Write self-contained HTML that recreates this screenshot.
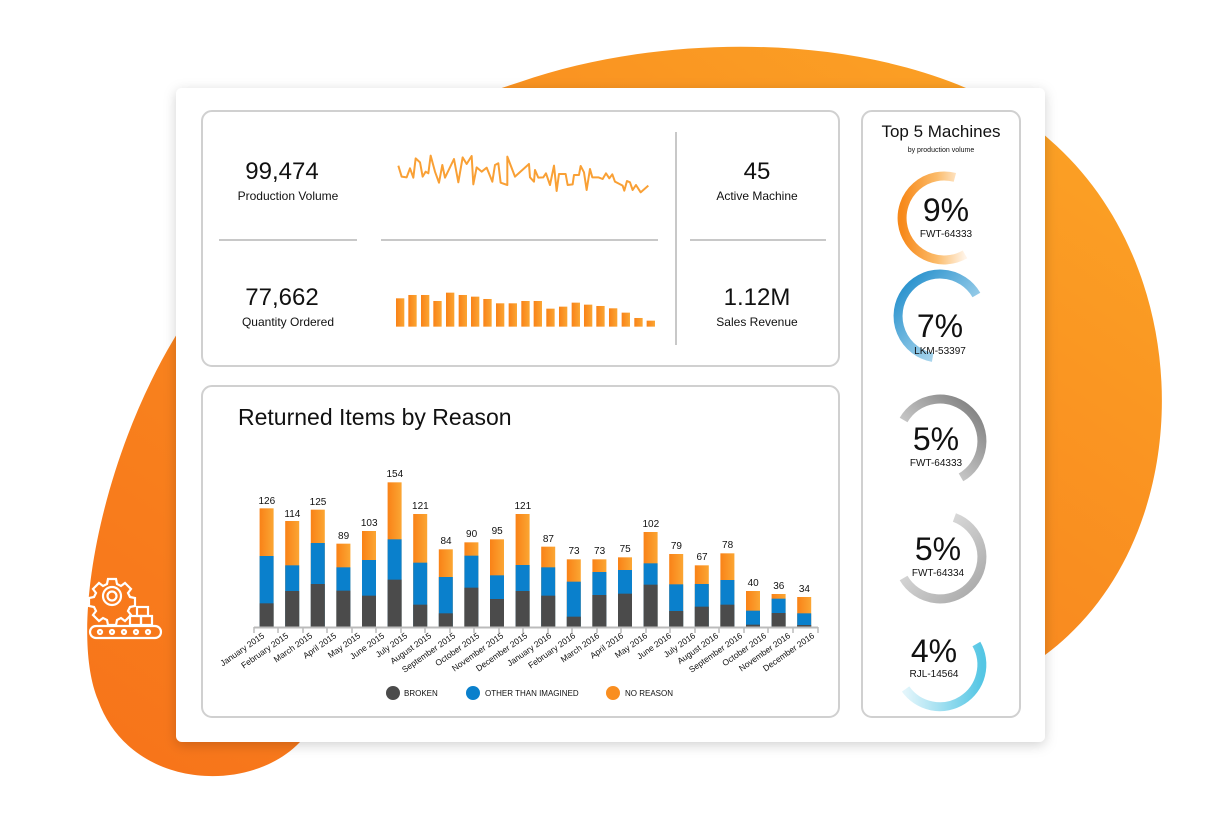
<!DOCTYPE html>
<html><head><meta charset="utf-8"><style>
html,body{margin:0;padding:0;background:#fff;width:1222px;height:828px;overflow:hidden;font-family:"Liberation Sans",sans-serif}
</style></head><body>
<svg width="1222" height="828" viewBox="0 0 1222 828" xmlns="http://www.w3.org/2000/svg" font-family="Liberation Sans, sans-serif">
<defs>
<linearGradient id="blob" x1="0" y1="1" x2="1" y2="0"><stop offset="0" stop-color="#f7731a"/><stop offset="0.6" stop-color="#f98e20"/><stop offset="1" stop-color="#fca626"/></linearGradient>
<linearGradient id="ob" x1="0" y1="0" x2="1" y2="0"><stop offset="0" stop-color="#f98217"/><stop offset="1" stop-color="#fba633"/></linearGradient>
<linearGradient id="g1" x1="0" y1="0" x2="1" y2="0"><stop offset="0" stop-color="#f7891a"/><stop offset="0.55" stop-color="#fbbb6a"/><stop offset="1" stop-color="#fff4e8"/></linearGradient>
<linearGradient id="g2" x1="0" y1="0" x2="1" y2="1"><stop offset="0" stop-color="#1688c9"/><stop offset="1" stop-color="#dcf0f9"/></linearGradient>
<linearGradient id="g3" x1="1" y1="0" x2="0" y2="1"><stop offset="0" stop-color="#777"/><stop offset="1" stop-color="#f2f2f2"/></linearGradient>
<linearGradient id="g4" x1="0" y1="0" x2="1" y2="1"><stop offset="0" stop-color="#eee"/><stop offset="1" stop-color="#a5a5a5"/></linearGradient>
<linearGradient id="g5" x1="0" y1="0" x2="1" y2="0"><stop offset="0" stop-color="#e2f5fb"/><stop offset="1" stop-color="#55c6e4"/></linearGradient>
<filter id="sh" x="-10%" y="-10%" width="120%" height="120%"><feDropShadow dx="0" dy="3" stdDeviation="6" flood-color="#000" flood-opacity="0.18"/></filter>
</defs>
<path d="M520,82 C700,20 940,40 1050,140 C1200,270 1200,540 1045,655 L300,742 C250,795 130,790 98,700 C65,620 110,420 200,300 L200,95 L480,95 Z" fill="url(#blob)"/>
<rect x="176" y="88" width="869" height="654" rx="6" fill="#fff" filter="url(#sh)"/>
<g fill="none" stroke="#fff" stroke-width="2.2">
<circle cx="112" cy="596" r="9"/><circle cx="112" cy="596" r="4.5"/>
<path d="M108,579 h8 l1,5 l4,2 l4,-3 l6,6 l-3,4 l2,4 l5,1 v8 l-5,1 l-2,4 l3,4 l-6,6 l-4,-3 l-4,2 l-1,5 h-8 l-1,-5 l-4,-2 l-4,3 l-6,-6 l3,-4 l-2,-4 l-5,-1 v-8 l5,-1 l2,-4 l-3,-4 l6,-6 l4,3 l4,-2 z"/>
<rect x="137" y="607" width="11" height="9"/><rect x="130" y="616" width="11" height="9"/><rect x="141" y="616" width="11" height="9"/>
<rect x="90" y="626" width="71" height="12" rx="6"/>
<circle cx="100" cy="632" r="2"/><circle cx="112" cy="632" r="2"/><circle cx="124" cy="632" r="2"/><circle cx="136" cy="632" r="2"/><circle cx="148" cy="632" r="2"/>
</g>
<rect x="202" y="111" width="637" height="255" rx="10" fill="#fff" stroke="#d0d0d0" stroke-width="2"/>
<rect x="202" y="386" width="637" height="331" rx="10" fill="#fff" stroke="#d0d0d0" stroke-width="2"/>
<rect x="862" y="111" width="158" height="606" rx="10" fill="#fff" stroke="#d0d0d0" stroke-width="2"/>
<g stroke="#c8c8c8" stroke-width="2"><line x1="219" y1="240" x2="357" y2="240"/><line x1="381" y1="240" x2="658" y2="240"/><line x1="690" y1="240" x2="826" y2="240"/><line x1="676" y1="132" x2="676" y2="345"/></g>
<g text-anchor="middle" fill="#111">
<text x="282" y="179" font-size="24">99,474</text><text x="288" y="200" font-size="12">Production Volume</text>
<text x="282" y="305" font-size="24">77,662</text><text x="288" y="326" font-size="12">Quantity Ordered</text>
<text x="757" y="179" font-size="24">45</text><text x="757" y="200" font-size="12">Active Machine</text>
<text x="757" y="305" font-size="24">1.12M</text><text x="757" y="326" font-size="12">Sales Revenue</text>
</g>
<g transform="translate(380,140) scale(0.3333)">
<polyline fill="none" stroke="#f9a035" stroke-width="6" stroke-linejoin="round" points="55,77 65,110 80,112 90,85 100,113 107,55 120,67 128,110 137,95 145,100 152,47 165,95 177,128 187,75 195,113 222,57 235,127 248,52 260,72 275,48 280,133 290,82 305,95 320,83 337,125 345,75 355,70 362,128 382,135 382,50 405,110 447,72 450,112 462,125 465,90 475,113 490,112 498,100 510,135 522,77 530,153 537,102 557,102 563,135 578,133 582,105 597,105 602,78 612,97 620,150 630,87 637,112 655,112 668,117 678,100 688,115 697,103 705,125 728,137 733,152 741,123 750,127 758,150 768,135 782,157 805,137"/>
<g fill="url(#ob)">
<rect x="48" y="475" width="25" height="85"/><rect x="85" y="465" width="25" height="95"/><rect x="123" y="465" width="25" height="95"/><rect x="160" y="483" width="25" height="77"/><rect x="198" y="458" width="25" height="102"/><rect x="236" y="465" width="25" height="95"/><rect x="273" y="470" width="25" height="90"/><rect x="310" y="477" width="25" height="83"/><rect x="348" y="490" width="25" height="70"/><rect x="386" y="490" width="25" height="70"/><rect x="424" y="483" width="25" height="77"/><rect x="461" y="483" width="25" height="77"/><rect x="499" y="506" width="25" height="54"/><rect x="537" y="500" width="25" height="60"/><rect x="575" y="488" width="25" height="72"/><rect x="612" y="494" width="25" height="66"/><rect x="649" y="498" width="25" height="62"/><rect x="687" y="505" width="25" height="55"/><rect x="725" y="518" width="25" height="42"/><rect x="763" y="534" width="25" height="26"/><rect x="800" y="542" width="25" height="18"/>
</g></g>
<text x="238" y="425" font-size="23" fill="#111">Returned Items by Reason</text>
<g transform="translate(200,460) scale(0.4,0.33333)">
<g fill="url(#ob)">
<rect x="149" y="145" width="35" height="355"/><rect x="213" y="183" width="35" height="317"/><rect x="277" y="149" width="35" height="351"/><rect x="341" y="251" width="35" height="249"/><rect x="405" y="213" width="35" height="287"/><rect x="469" y="67" width="35" height="433"/><rect x="533" y="162" width="35" height="338"/><rect x="597" y="268" width="35" height="232"/><rect x="661" y="247" width="35" height="253"/><rect x="725" y="238" width="35" height="262"/><rect x="789" y="162" width="35" height="338"/><rect x="853" y="260" width="35" height="240"/><rect x="917" y="298" width="35" height="202"/><rect x="981" y="298" width="35" height="202"/><rect x="1045" y="292" width="35" height="208"/><rect x="1109" y="216" width="35" height="284"/><rect x="1173" y="282" width="35" height="218"/><rect x="1237" y="316" width="35" height="184"/><rect x="1301" y="280" width="35" height="220"/><rect x="1365" y="393" width="35" height="107"/><rect x="1429" y="402" width="35" height="98"/><rect x="1493" y="411" width="35" height="89"/>
</g>
<g fill="#0a80cc">
<rect x="149" y="288" width="35" height="212"/><rect x="213" y="316" width="35" height="184"/><rect x="277" y="249" width="35" height="251"/><rect x="341" y="322" width="35" height="178"/><rect x="405" y="300" width="35" height="200"/><rect x="469" y="238" width="35" height="262"/><rect x="533" y="308" width="35" height="192"/><rect x="597" y="351" width="35" height="149"/><rect x="661" y="287" width="35" height="213"/><rect x="725" y="346" width="35" height="154"/><rect x="789" y="315" width="35" height="185"/><rect x="853" y="322" width="35" height="178"/><rect x="917" y="365" width="35" height="135"/><rect x="981" y="336" width="35" height="164"/><rect x="1045" y="330" width="35" height="170"/><rect x="1109" y="310" width="35" height="190"/><rect x="1173" y="373" width="35" height="127"/><rect x="1237" y="372" width="35" height="128"/><rect x="1301" y="360" width="35" height="140"/><rect x="1365" y="452" width="35" height="48"/><rect x="1429" y="416" width="35" height="84"/><rect x="1493" y="460" width="35" height="40"/>
</g>
<g fill="#4b4b4b">
<rect x="149" y="430" width="35" height="70"/><rect x="213" y="393" width="35" height="107"/><rect x="277" y="372" width="35" height="128"/><rect x="341" y="392" width="35" height="108"/><rect x="405" y="407" width="35" height="93"/><rect x="469" y="359" width="35" height="141"/><rect x="533" y="434" width="35" height="66"/><rect x="597" y="460" width="35" height="40"/><rect x="661" y="383" width="35" height="117"/><rect x="725" y="417" width="35" height="83"/><rect x="789" y="393" width="35" height="107"/><rect x="853" y="407" width="35" height="93"/><rect x="917" y="470" width="35" height="30"/><rect x="981" y="405" width="35" height="95"/><rect x="1045" y="401" width="35" height="99"/><rect x="1109" y="374" width="35" height="126"/><rect x="1173" y="453" width="35" height="47"/><rect x="1237" y="440" width="35" height="60"/><rect x="1301" y="434" width="35" height="66"/><rect x="1365" y="494" width="35" height="6"/><rect x="1429" y="459" width="35" height="41"/><rect x="1493" y="495" width="35" height="5"/>
</g></g>
<g font-size="10" text-anchor="middle" fill="#111">
<text x="266.8" y="504">126</text><text x="292.4" y="517">114</text><text x="318" y="505">125</text><text x="343.6" y="539">89</text><text x="369.2" y="526">103</text><text x="394.8" y="477">154</text><text x="420.4" y="509">121</text><text x="446" y="544">84</text><text x="471.6" y="537">90</text><text x="497.2" y="534">95</text><text x="522.8" y="509">121</text><text x="548.4" y="542">87</text><text x="574" y="554">73</text><text x="599.6" y="554">73</text><text x="625.2" y="552">75</text><text x="650.8" y="527">102</text><text x="676.4" y="549">79</text><text x="702" y="560">67</text><text x="727.6" y="548">78</text><text x="753.2" y="586">40</text><text x="778.8" y="589">36</text><text x="804.4" y="592">34</text>
</g>
<line x1="254" y1="627.5" x2="818" y2="627.5" stroke="#bbb" stroke-width="2"/>
<g stroke="#bbb" stroke-width="1.5">
<line x1="254" y1="627" x2="254" y2="633"/><line x1="278" y1="627" x2="278" y2="633"/><line x1="303" y1="627" x2="303" y2="633"/><line x1="327" y1="627" x2="327" y2="633"/><line x1="352" y1="627" x2="352" y2="633"/><line x1="376" y1="627" x2="376" y2="633"/><line x1="401" y1="627" x2="401" y2="633"/><line x1="425" y1="627" x2="425" y2="633"/><line x1="450" y1="627" x2="450" y2="633"/><line x1="474" y1="627" x2="474" y2="633"/><line x1="499" y1="627" x2="499" y2="633"/><line x1="523" y1="627" x2="523" y2="633"/><line x1="548" y1="627" x2="548" y2="633"/><line x1="572" y1="627" x2="572" y2="633"/><line x1="597" y1="627" x2="597" y2="633"/><line x1="621" y1="627" x2="621" y2="633"/><line x1="646" y1="627" x2="646" y2="633"/><line x1="670" y1="627" x2="670" y2="633"/><line x1="695" y1="627" x2="695" y2="633"/><line x1="719" y1="627" x2="719" y2="633"/><line x1="744" y1="627" x2="744" y2="633"/><line x1="768" y1="627" x2="768" y2="633"/><line x1="793" y1="627" x2="793" y2="633"/><line x1="818" y1="627" x2="818" y2="633"/>
</g>
<g font-size="8.5" text-anchor="end" fill="#111">
<text transform="translate(265,637) rotate(-35)">January 2015</text><text transform="translate(289,637) rotate(-35)">February 2015</text><text transform="translate(313,637) rotate(-35)">March 2015</text><text transform="translate(337,637) rotate(-35)">April 2015</text><text transform="translate(361,637) rotate(-35)">May 2015</text><text transform="translate(385,637) rotate(-35)">June 2015</text><text transform="translate(408,637) rotate(-35)">July 2015</text><text transform="translate(432,637) rotate(-35)">August 2015</text><text transform="translate(456,637) rotate(-35)">September 2015</text><text transform="translate(480,637) rotate(-35)">October 2015</text><text transform="translate(504,637) rotate(-35)">November 2015</text><text transform="translate(528,637) rotate(-35)">December 2015</text><text transform="translate(552,637) rotate(-35)">January 2016</text><text transform="translate(576,637) rotate(-35)">February 2016</text><text transform="translate(600,637) rotate(-35)">March 2016</text><text transform="translate(624,637) rotate(-35)">April 2016</text><text transform="translate(648,637) rotate(-35)">May 2016</text><text transform="translate(672,637) rotate(-35)">June 2016</text><text transform="translate(696,637) rotate(-35)">July 2016</text><text transform="translate(719,637) rotate(-35)">August 2016</text><text transform="translate(743,637) rotate(-35)">September 2016</text><text transform="translate(767,637) rotate(-35)">October 2016</text><text transform="translate(791,637) rotate(-35)">November 2016</text><text transform="translate(815,637) rotate(-35)">December 2016</text>
</g>
<circle cx="393" cy="693" r="7" fill="#4b4b4b"/><text x="404" y="696" font-size="8" fill="#111">BROKEN</text>
<circle cx="473" cy="693" r="7" fill="#0a80cc"/><text x="485" y="696" font-size="8" fill="#111">OTHER THAN IMAGINED</text>
<circle cx="613" cy="693" r="7" fill="#f98e20"/><text x="625" y="696" font-size="8" fill="#111">NO REASON</text>
<text x="941" y="137" font-size="17" text-anchor="middle" fill="#111">Top 5 Machines</text>
<text x="941" y="152" font-size="7" text-anchor="middle" fill="#111">by production volume</text>
<g fill="none" stroke-width="9">
<path d="M954.9,177.4 A42,42 0 1 0 965,254.4" stroke="url(#g1)"/>
<path d="M976.4,295 A42,42 0 1 0 932.7,357.4" stroke="url(#g2)"/>
<path d="M903.6,420 A42,42 0 1 1 961,477.4" stroke="url(#g3)"/>
<path d="M954.4,517.5 A42,42 0 1 1 903.6,578" stroke="url(#g4)"/>
<path d="M976.4,644 A42,42 0 0 1 905.6,689" stroke="url(#g5)"/>
</g>
<g text-anchor="middle" fill="#111">
<text x="946" y="221" font-size="32">9%</text><text x="946" y="237" font-size="10">FWT-64333</text>
<text x="940" y="337" font-size="32">7%</text><text x="940" y="354" font-size="10">LKM-53397</text>
<text x="936" y="450" font-size="32">5%</text><text x="936" y="466" font-size="10">FWT-64333</text>
<text x="938" y="560" font-size="32">5%</text><text x="938" y="576" font-size="10">FWT-64334</text>
<text x="934" y="662" font-size="32">4%</text><text x="934" y="677" font-size="10">RJL-14564</text>
</g>
</svg>
</body></html>
